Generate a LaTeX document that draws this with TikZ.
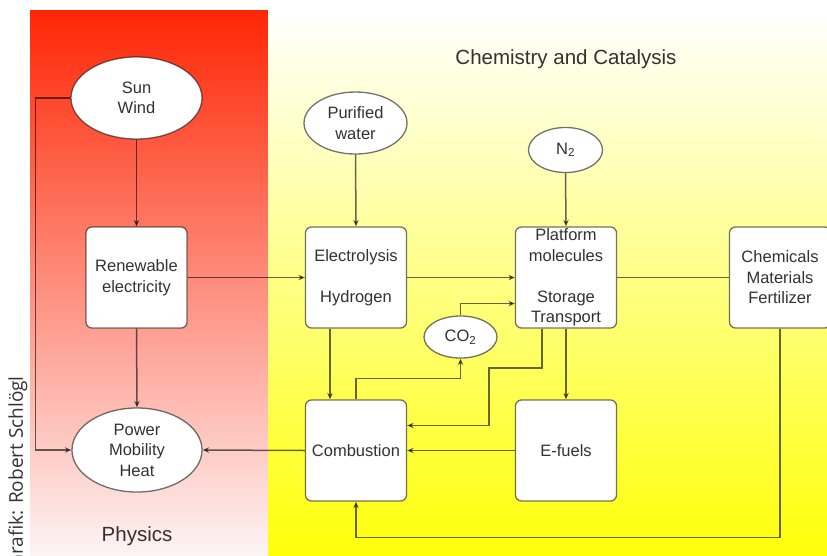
\documentclass[tikz,border=0pt]{standalone}
\usepackage{fontspec}
\setmainfont{Liberation Sans}
\newfontfamily\credfont{Open Sans}
\usetikzlibrary{shapes.geometric,arrows.meta,calc}
\definecolor{txt}{RGB}{50,50,50}
\definecolor{redtop}{RGB}{255,38,5}
\definecolor{redmid}{RGB}{242,115,115}
\definecolor{redbot}{RGB}{253,244,244}
\definecolor{yelmid}{RGB}{255,251,135}
\definecolor{yelbot}{RGB}{255,255,10}
\begin{document}
\begin{tikzpicture}[x=1pt,y=-1pt,
  lbl/.style={font=\fontsize{16.5}{20.5}\selectfont, text=txt, align=center},
  boxnode/.style={lbl, draw=black, draw opacity=.55, fill=white, rounded corners=6pt,
    minimum width=101pt, minimum height=101pt, line width=1.3pt, inner sep=0pt},
  ell/.style={lbl, ellipse, draw=black, draw opacity=.55, fill=white, line width=1.3pt, inner sep=0pt},
  conn/.style={draw=black, opacity=.6, line width=1.5pt, -{Stealth[length=6.5pt,width=5.5pt]}},
  plainconn/.style={draw=black, opacity=.6, line width=1.5pt},
  title/.style={font=\fontsize{20.5}{24}\selectfont, text=txt}
]
\useasboundingbox (0,0) rectangle (827,555);
\fill[white] (0,0) rectangle (827,555);
\shade[top color=redtop, middle color=redmid, bottom color=redbot] (30,10) rectangle (268,555);
\shade[top color=white, middle color=yelmid, bottom color=yelbot] (268,10) rectangle (827,555);

% credit
\node[rotate=90, anchor=base east, inner sep=0pt, font=\credfont\fontsize{19}{22}\selectfont, text=black!80] (credit) at (23,376) {Grafik: Robert Schlögl};

% titles
\node[title] (chemtitle) at (566,59) {Chemistry and Catalysis};
\node[title] (phystitle) at (137,536) {Physics};

% ellipses
\node[ell, minimum width=131pt, minimum height=82pt] (sun) at (136.5,98) {Sun\\Wind};
\node[ell, minimum width=103pt, minimum height=62pt] (pw) at (355.5,123) {Purified\\water};
\node[ell, minimum width=74pt, minimum height=45pt] (n2) at (565.5,150) {N\textsubscript{2}};
\node[ell, minimum width=73pt, minimum height=42pt] (co2) at (460.5,337) {CO\textsubscript{2}};
\node[ell, minimum width=130pt, minimum height=84pt] (pow) at (137,450) {Power\\Mobility\\Heat};

% boxes
\node[boxnode] (ren) at (136.5,277.5) {Renewable\\electricity};
\node[boxnode] (ele) at (356,277.5) {Electrolysis\\[20.5pt]Hydrogen};
\node[boxnode] (plat) at (566,277.5) {Platform\\molecules\\[20.5pt]Storage\\Transport};
\node[boxnode] (chem) at (780,277.5) {Chemicals\\Materials\\Fertilizer};
\node[boxnode] (com) at (356,450.5) {Combustion};
\node[boxnode] (efu) at (566,450.5) {E-fuels};

% connectors
\draw[conn] (sun.south) -- (ren.north);
\draw[conn] (sun.west) -| ($(pow.west)+(-36,0)$) -- (pow.west);
\draw[conn] (ren.south) -- (pow.north);
\draw[conn] (ren.east) -- (ele.west);
\draw[conn] (pw.south) -- (ele.north);
\draw[conn] (ele.east) -- (plat.west);
\draw[conn] (n2.south) -- (plat.north);
\draw[plainconn] (plat.east) -- (chem.west);
\draw[conn] ($(ele.south)+(-26,0)$) -- ($(com.north)+(-26,0)$);
\draw[conn] (com.north) -- ++(0,-21) -| (co2.south);
\draw[conn] (co2.north) |- ($(plat.west)+(0,26)$);
\coordinate (jog) at (489,368);
\draw[conn] ($(plat.south)+(-24,0)$) |- (jog) |- ($(com.east)+(0,-25)$);
\draw[conn] (plat.south) -- (efu.north);
\draw[conn] (efu.west) -- (com.east);
\draw[conn] (chem.south) -- ++(0,209) -| (com.south);
\draw[conn] (com.west) -- (pow.east);
\end{tikzpicture}
\end{document}
